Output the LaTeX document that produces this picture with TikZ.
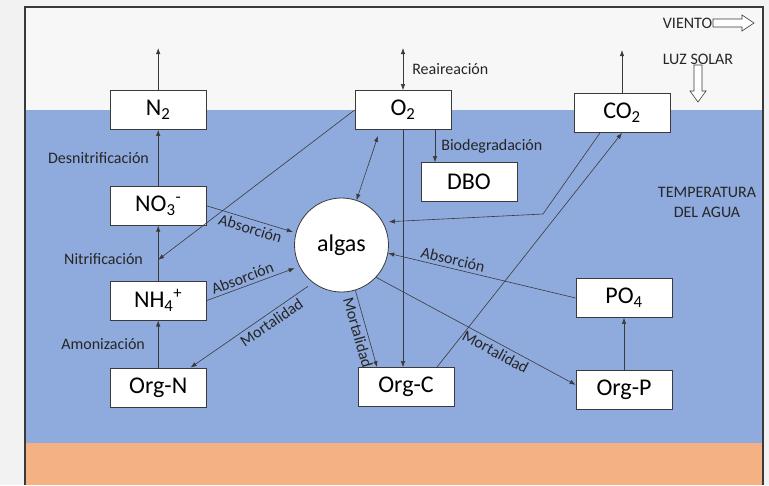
\documentclass[tikz,border=0pt]{standalone}
\usepackage{fontspec}
\setmainfont{Carlito}
\usepackage{xcolor}
\definecolor{agua}{HTML}{8FAADC}
\definecolor{fondo}{HTML}{F4B183}
\definecolor{cielo}{HTML}{F7F7F7}
\definecolor{marco}{HTML}{F2F2F2}
\definecolor{linea}{HTML}{3A3A3A}
\definecolor{texto}{HTML}{262626}
\usetikzlibrary{arrows.meta,positioning,calc}

\begin{document}
\begin{tikzpicture}[x=1pt,y=-1pt,>={Latex[length=6pt,width=4.5pt]}]
\tikzset{
 bx/.style={draw=linea,fill=white,line width=0.8pt,minimum width=96pt,minimum height=39pt,inner sep=2pt,font=\fontsize{24}{28}\selectfont},
 a/.style={->,draw=linea,line width=0.6pt},
 lab/.style={font=\fontsize{16}{19}\selectfont,text=texto,inner sep=3pt},
 hueco/.style={draw=linea,fill=white,line width=0.6pt}
}
% fondo: aire, agua, sedimento
\fill[marco] (0,0) rectangle (769,485);
\fill[cielo] (25,7) rectangle (763,485);
\fill[agua] (25,110) rectangle (763,443);
\fill[fondo] (25,443) rectangle (763,485);
\draw[linea,line width=1.2pt] (25,485) -- (25,7) -- (763,7) -- (763,485);

\node[bx] (o2) at (403,110) {O\textsubscript{2}};
\node[bx,left=148pt of o2] (n2) {N\textsubscript{2}};
\node[bx,below=56pt of n2] (no3) {NO\textsubscript{3}\textsuperscript{-}};
\node[bx,below=55pt of no3] (nh4) {NH\textsubscript{4}\textsuperscript{+}};
\node[bx,below=47pt of nh4] (orgn) {Org-N};
\node[bx] (dbo) at (469,182) {DBO};
\node[bx] (co2) at (622,113) {CO\textsubscript{2}};
\node[bx] (orgc) at (406,387) {Org-C};
\node[bx] (po4) at (624,298) {PO\textsubscript{4}};
\node[bx,below=52pt of po4] (orgp) {Org-P};
\node[circle,draw=linea,fill=white,line width=0.8pt,minimum size=94pt,inner sep=0pt,font=\fontsize{24}{28}\selectfont] (algas) at (341.5,245) {algas};

\coordinate[above=42pt of n2] (n2up);
\coordinate[above=42pt of o2] (o2up);
\coordinate[above=43pt of co2] (co2up);
\coordinate (nitpt) at ($(nh4.north)!0.38!(no3.south)$);
\coordinate (co2bend) at (543,214);

% nitrogeno
\draw[a] (n2) -- (n2up);
\draw[a] (no3) -- node[lab,left=6pt]{Desnitrificación} (n2);
\draw[a] (nh4) -- node[lab,left=12pt,pos=0.4]{Nitrificación} (no3);
\draw[a] (orgn) -- node[lab,left=10pt]{Amonización} (nh4);
\draw[a] (o2.west) -- (nitpt);
\draw[a,shorten >=3pt] (no3.east) -- node[lab,sloped,below,pos=0.52]{Absorción} (algas.165);
\draw[a,shorten >=5pt] (nh4.east) -- node[lab,sloped,above,pos=0.42]{Absorción} (algas.207);
\draw[a,shorten <=6pt] (algas.233) -- node[lab,sloped,below,pos=0.38]{Mortalidad} ([xshift=-16pt]orgn.north east);

% oxigeno y carbono
\draw[a,<->] (o2) -- node[lab,right=6pt]{Reaireación} (o2up);
\draw[a,<->] (algas) -- ([xshift=-25pt,yshift=-6pt]o2.south);
\draw[a] ([xshift=32pt]o2.south) -- node[lab,right=3pt]{Biodegradación} ([xshift=32pt]o2.south |- dbo.north);
\draw[a] (o2.south) -- (o2.south |- orgc.north);
\draw[a] (algas.287) -- node[lab,sloped,below,pos=0.52]{Mortalidad} ([xshift=-29pt]orgc.north);
\draw[a] (co2) -- (co2up);
\draw[a,shorten >=6pt] ([xshift=-22pt]co2.south) -- (co2bend) -- (algas.29);
\draw[a] ([xshift=31pt]orgc.north) -- (co2.south);

% fosforo
\draw[a] (orgp) -- (po4);
\draw[a] (po4.west) -- node[lab,sloped,above,pos=0.665]{Absorción} (algas.350);
\draw[a] (algas.317) -- node[lab,sloped,below,pos=0.62]{Mortalidad} ([yshift=5pt]orgp.west);

% condiciones
\node[lab,inner sep=0pt] (viento) at (687.5,23) {VIENTO};
\draw[hueco] (713,19) -- (742,19) -- (742,15) -- (754,23) -- (742,31) -- (742,27) -- (713,27) -- cycle;
\draw[hueco] (694,65) -- (702,65) -- (702,91) -- (706,91) -- (698,102) -- (690,91) -- (694,91) -- cycle;
\node[lab,inner sep=0pt] (luz) at (698,59) {LUZ SOLAR};
\node[lab,align=center,inner sep=0pt] (temp) at (707,202) {TEMPERATURA\\[1pt]DEL AGUA};
\end{tikzpicture}
\end{document}
